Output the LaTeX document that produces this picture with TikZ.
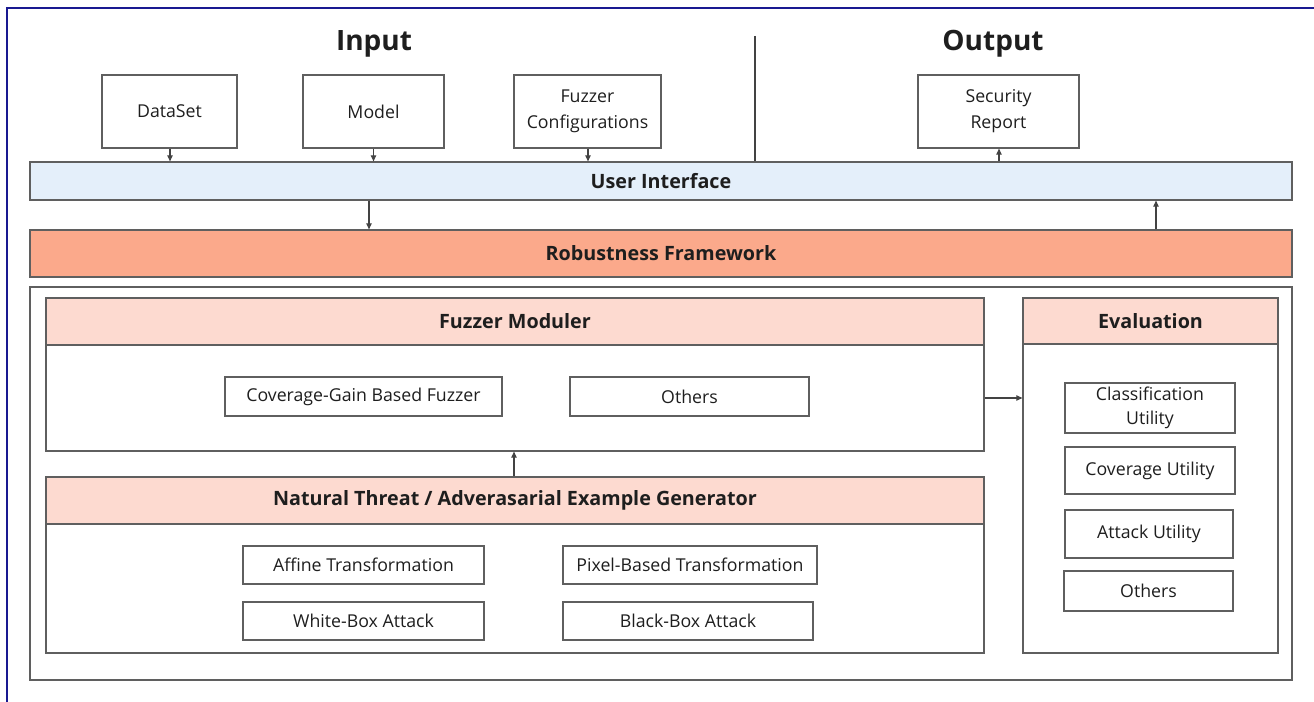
\documentclass[tikz,border=0pt]{standalone}
\usepackage{fontspec}
\setmainfont{Open Sans}
\usetikzlibrary{arrows.meta}
\definecolor{uiblue}{RGB}{228,239,250}
\definecolor{rfsalmon}{RGB}{251,169,139}
\definecolor{hdpink}{RGB}{253,218,208}
\definecolor{navyline}{RGB}{25,25,145}
\definecolor{edgegray}{RGB}{95,95,95}
\definecolor{txt}{RGB}{30,30,30}
\newcommand\mkbox[7]{\node[#6, minimum width={(#4-#2)*0.75pt}, minimum height={(#5-#3)*0.75pt}] (#1) at ({(#2+#4)/2},{(#3+#5)/2}) {#7};}
\tikzset{
  base/.style={draw=edgegray, line width=0.9pt, inner sep=0pt, text=txt, align=center, font=\fontsize{13.3}{19.5}\selectfont},
  plain/.style={base},
  bar/.style={base, font=\fontsize{14.8}{17}\selectfont\bfseries},
  hdr/.style={base, fill=hdpink, font=\fontsize{14.8}{17}\selectfont\bfseries},
  frame/.style={base},
  conn/.style={draw=edgegray!70!black, line width=0.8pt, -{Triangle[length=4.5pt,width=4pt]}},
  title/.style={text=txt, inner sep=0pt, font=\fontsize{21}{24}\selectfont\bfseries}
}
\begin{document}
\begin{tikzpicture}[x=0.75pt,y=-0.75pt]
\useasboundingbox (0,0) rectangle (1314,702);
% outer blue border (top and left)
\draw[navyline, line width=1.8pt] (7,702) -- (7,8) -- (1314,8);
% titles
\node[title] (input) at (374,44) {Input};
\node[title] (output) at (993,44) {Output};
% input boxes
\mkbox{ds}{102}{75}{237}{148}{plain}{DataSet}
\mkbox{model}{303}{75}{444}{148}{plain}{Model}
\mkbox{fc}{514}{75}{661}{148}{plain}{Fuzzer\\Configurations}
\mkbox{sr}{918}{75}{1079}{148}{plain}{Security\\Report}
% bars
\mkbox{ui}{30}{162}{1292}{200}{bar,fill=uiblue}{User Interface}
\mkbox{rf}{30}{230}{1292}{277}{bar,fill=rfsalmon}{Robustness Framework}
% divider
\coordinate (divtop) at (755,36);
\draw[edgegray!70!black, line width=0.8pt] (divtop) -- (divtop |- ui.north);
% connectors top
\draw[conn] (ds.south -| 170,0) -- (ui.north -| 170,0);
\draw[conn] (model.south) -- (model.south |- ui.north);
\draw[conn] (fc.south -| 588,0) -- (ui.north -| 588,0);
\draw[conn] (ui.north -| 999,0) -- (sr.south -| 999,0);
\draw[conn] (ui.south -| 369,0) -- (rf.north -| 369,0);
\draw[conn] (rf.north -| 1156,0) -- (ui.south -| 1156,0);
% container
\mkbox{cont}{30}{287}{1292}{680}{frame}{}
% fuzzer moduler
\mkbox{fmb}{46}{345}{984}{451}{frame}{}
\mkbox{fm}{46}{298}{984}{345}{hdr}{Fuzzer Moduler}
\mkbox{cg}{225}{377}{502}{416}{plain}{Coverage-Gain Based Fuzzer}
\mkbox{fo}{570}{377}{809}{416}{plain}{Others}
% natural threat
\mkbox{ntb}{46}{524}{984}{653}{frame}{}
\mkbox{nt}{46}{477}{984}{524}{hdr}{Natural Threat / Adverasarial Example Generator}
\mkbox{aff}{243}{546}{484}{584}{plain}{Affine Transformation}
\mkbox{pix}{563}{546}{817}{584}{plain}{Pixel-Based Transformation}
\mkbox{wb}{243}{602}{484}{640}{plain}{White-Box Attack}
\mkbox{bb}{563}{602}{813}{640}{plain}{Black-Box Attack}
% evaluation
\mkbox{evb}{1023}{344}{1278}{653}{frame}{}
\mkbox{ev}{1023}{298}{1278}{344}{hdr}{Evaluation}
\mkbox{cu}{1065}{383}{1235}{433}{plain,font=\fontsize{13.3}{18.5}\selectfont}{Classification\\Utility}
\mkbox{cov}{1065}{447}{1235}{494}{plain}{Coverage Utility}
\mkbox{au}{1065}{510}{1233}{558}{plain}{Attack Utility}
\mkbox{eo}{1064}{571}{1233}{611}{plain}{Others}
% inner connectors
\draw[conn] (nt.north -| 514,0) -- (fmb.south -| 514,0);
\draw[conn] (fmb.east |- 0,398) -- (evb.west |- 0,398);
\end{tikzpicture}
\end{document}
